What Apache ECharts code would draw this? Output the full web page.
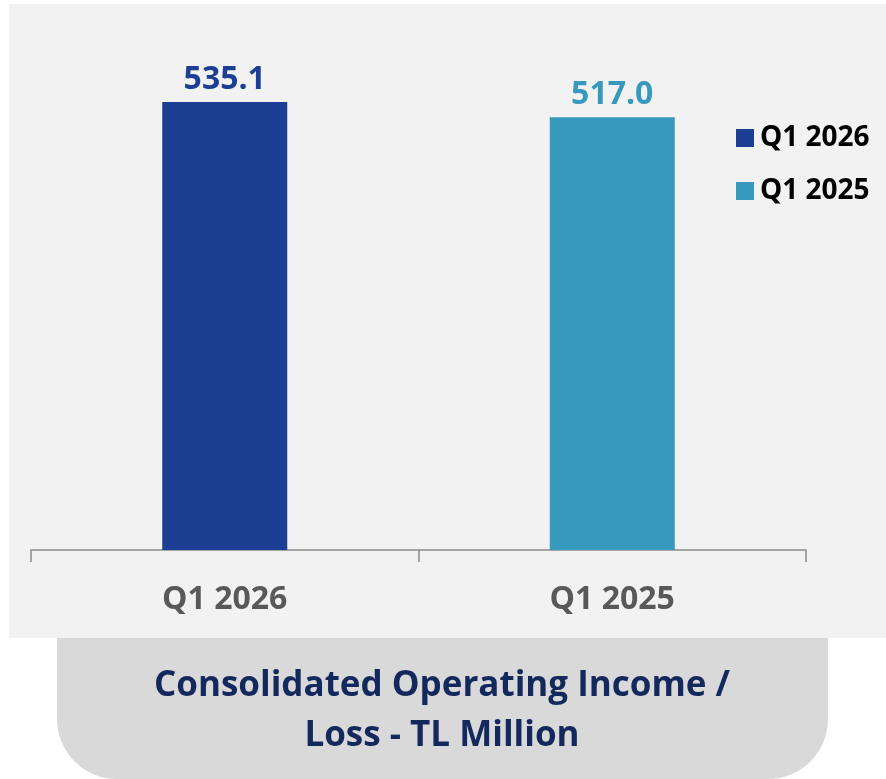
<!DOCTYPE html>
<html>
<head>
<meta charset="utf-8">
<script src="https://cdn.jsdelivr.net/npm/echarts@6/dist/echarts.min.js"></script>
<style>
  html, body { margin: 0; padding: 0; background: #fff; }
  #chart { width: 886px; height: 779px; }
</style>
</head>
<body>
<div id="chart"></div>
<script>
// categories on the x axis
const categories = ['Q1 2026', 'Q1 2025'];
// series names (legend) and values
const seriesNames = ['Q1 2026', 'Q1 2025'];
const values2026 = [535.1, null];
const values2025 = [null, 517.0];
const titleLines = ['Consolidated Operating Income /', 'Loss - TL Million'];

const colors = ['#1c3f94', '#3799be'];
const font = '"Open Sans", "Noto Sans", sans-serif';

let myChart = echarts.init(document.getElementById('chart'));

function barSeries(name, data, color) {
  return {
    name: name,
    type: 'bar',
    stack: 'all',
    barWidth: 125,
    data: data,
    itemStyle: { color: color },
    label: {
      show: true,
      position: 'top',
      distance: 6,
      color: color,
      fontFamily: font,
      fontWeight: 'bold',
      fontSize: 32,
      formatter: p => p.value.toFixed(1)
    }
  };
}

let option = {
  animation: false,
  backgroundColor: '#ffffff',
  graphic: [
    {
      type: 'rect', z: -10, silent: true,
      shape: { x: 9, y: 4, width: 877, height: 634 },
      style: { fill: '#f2f2f2' }
    },
    {
      type: 'rect', z: -10, silent: true,
      shape: { x: 57, y: 638, width: 771, height: 141, r: [0, 0, 60, 60] },
      style: { fill: '#d9d9d9' }
    },
    {
      type: 'text', silent: true,
      style: {
        x: 442, y: 704, text: titleLines[0],
        textAlign: 'center', textVerticalAlign: 'bottom',
        fill: '#13285c', font: 'bold 35px ' + font
      }
    },
    {
      type: 'text', silent: true,
      style: {
        x: 442, y: 754, text: titleLines[1],
        textAlign: 'center', textVerticalAlign: 'bottom',
        fill: '#13285c', font: 'bold 35px ' + font
      }
    }
  ],
  legend: {
    orient: 'vertical',
    left: 731,
    top: 119,
    itemWidth: 18,
    itemHeight: 18,
    itemGap: 25,
    icon: 'rect',
    data: seriesNames,
    textStyle: {
      color: '#000',
      fontFamily: font,
      fontWeight: 'bold',
      fontSize: 28,
      padding: [0, 0, 0, 1]
    }
  },
  grid: {
    left: 31,
    right: 80,
    top: 47.7,
    bottom: 229,
    containLabel: false
  },
  xAxis: {
    type: 'category',
    data: categories,
    axisLine: { lineStyle: { color: '#8c8c8c', width: 1.5 } },
    axisTick: { show: true, length: 12, lineStyle: { color: '#8c8c8c', width: 1.5 } },
    axisLabel: {
      margin: 34,
      color: '#595959',
      fontFamily: font,
      fontWeight: 'bold',
      fontSize: 32
    }
  },
  yAxis: {
    type: 'value',
    min: 0,
    max: 600,
    show: false,
    splitLine: { show: false }
  },
  series: [
    barSeries(seriesNames[0], values2026, colors[0]),
    barSeries(seriesNames[1], values2025, colors[1])
  ]
};

myChart.setOption(option);
window.addEventListener('resize', () => myChart.resize());
</script>
</body>
</html>
